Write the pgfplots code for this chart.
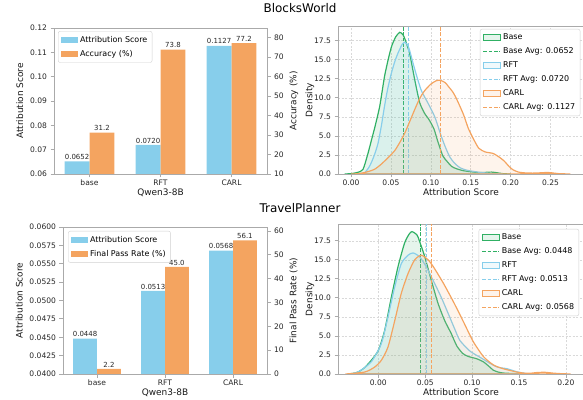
\documentclass[border=0pt]{standalone}
\usepackage{pgfplots}
\pgfplotsset{compat=1.18}
\usepackage{fontspec}
\setmainfont{DejaVu Sans}
\definecolor{cgreen}{RGB}{48,176,100}
\definecolor{cblue}{RGB}{135,206,235}
\definecolor{corange}{RGB}{244,164,96}
\definecolor{spine}{RGB}{170,170,170}
\pgfplotsset{
 base/.style={
  scale only axis,
  anchor=south west,
  font=\fontsize{7.6}{9}\selectfont,
  /pgf/number format/assume math mode=true,
  tick align=outside,
  major tick length=3.5bp,
  tick style={spine, line width=0.8bp},
  axis line style={spine, line width=0.8bp},
  tick label style={text=black!85},
  label style={font=\fontsize{9}{10}\selectfont, text=black!90},
  xticklabel style={yshift=1bp},
  xlabel shift=-4bp,
  scaled ticks=false,
  legend cell align=left,
  legend style={font=\fontsize{8}{9.6}\selectfont, draw=black!18, rounded corners=2bp, fill=white, row sep=2.6bp, inner sep=2.8bp},
 },
 barleg/.style={legend image code/.code={\fill[sharp corners, draw=none, ##1] (0bp,-2.8bp) rectangle (17bp,2.8bp);}},
 kdeleg/.style={legend image code/.code={\draw[sharp corners, ##1] (0bp,-3bp) rectangle (17bp,3bp);}},
 avgleg/.style={legend image code/.code={\draw[sharp corners, line width=1bp, dash pattern=on 3.7bp off 1.6bp, draw=#1] (0bp,0bp) -- (17bp,0bp);}},
 barax/.style={base, xmin=-0.5, xmax=2.5, ybar, bar width=0.35, bar shift=0pt,
  nodes near coords, point meta=explicit symbolic,
  nodes near coords style={font=\fontsize{7}{8}\selectfont, text=black!85, inner sep=1.5bp}},
 kdeax/.style={base, xtick pos=bottom, ytick pos=left, grid=major,
  grid style={gray!30, dash pattern=on 2bp off 1.5bp, line width=0.5bp},
  ytick={0,2.5,5,7.5,10,12.5,15,17.5},
  xticklabel style={/pgf/number format/.cd, fixed, fixed zerofill, precision=2},
  yticklabel style={/pgf/number format/.cd, fixed, fixed zerofill, precision=1},
  ylabel shift=-7bp,
  xlabel={Attribution Score}, ylabel={Density}},
 kde/.style={smooth, tension=0.4, line width=1.2bp, fill opacity=0.12, draw opacity=1, kdeleg},
 avg/.style={line width=1bp, dash pattern=on 3.7bp off 1.6bp, draw=#1, avgleg=#1},
}
\begin{document}
\begin{tikzpicture}
\path[use as bounding box] (0bp,0bp) rectangle (583bp,400bp);
\node[font=\fontsize{12}{14}\selectfont] at (300bp,392bp) {BlocksWorld};
\node[font=\fontsize{12}{14}\selectfont] at (300bp,192bp) {TravelPlanner};

% ---------- top-left bars ----------
\begin{axis}[barax, at={(54bp,226bp)}, width=213bp, height=146bp,
  ymin=0.06, ymax=0.12, ytick={0.06,0.07,0.08,0.09,0.10,0.11,0.12},
  yticklabel style={/pgf/number format/.cd, fixed, fixed zerofill, precision=2},
  xtick={0,1,2}, xticklabels={base,RFT,CARL}, xtick pos=bottom, ytick pos=left,
  ylabel={Attribution Score}, xlabel={Qwen3-8B}]
\addplot[fill=cblue, draw=none] coordinates {(-0.175,0.0652)[0.0652] (0.825,0.0720)[0.0720] (1.825,0.1127)[0.1127]};
\end{axis}
\begin{axis}[barax, at={(54bp,226bp)}, width=213bp, height=146bp, axis on top,
  ymin=10, ymax=84.92, ytick={10,20,30,40,50,60,70,80},
  xtick=\empty, ytick pos=right, yticklabel pos=right,
  ylabel={Accuracy (\%)}, ylabel shift=-1bp,
  legend style={at={(0.019,0.979)}, anchor=north west}]
\addlegendimage{barleg, fill=cblue}
\addlegendentry{Attribution Score}
\addplot[fill=corange, draw=none, barleg] coordinates {(0.175,31.2)[31.2] (1.175,73.8)[73.8] (2.175,77.2)[77.2]};
\addlegendentry{Accuracy (\%)}
\end{axis}

% ---------- bottom-left bars ----------
\begin{axis}[barax, at={(63bp,26bp)}, width=204bp, height=147bp,
  ymin=0.04, ymax=0.06, ytick={0.04,0.0425,0.045,0.0475,0.05,0.0525,0.055,0.0575,0.06},
  yticklabel style={/pgf/number format/.cd, fixed, fixed zerofill, precision=4},
  xtick={0,1,2}, xticklabels={base,RFT,CARL}, xtick pos=bottom, ytick pos=left,
  ylabel={Attribution Score}, xlabel={Qwen3-8B}]
\addplot[fill=cblue, draw=none] coordinates {(-0.175,0.0448)[0.0448] (0.825,0.0513)[0.0513] (1.825,0.0568)[0.0568]};
\end{axis}
\begin{axis}[barax, at={(63bp,26bp)}, width=204bp, height=147bp, axis on top,
  ymin=0, ymax=61.71, ytick={0,10,20,30,40,50,60},
  xtick=\empty, ytick pos=right, yticklabel pos=right,
  ylabel={Final Pass Rate (\%)}, ylabel shift=-1bp,
  legend style={at={(0.025,0.973)}, anchor=north west}]
\addlegendimage{barleg, fill=cblue}
\addlegendentry{Attribution Score}
\addplot[fill=corange, draw=none, barleg] coordinates {(0.175,2.2)[2.2] (1.175,45.0)[45.0] (2.175,56.1)[56.1]};
\addlegendentry{Final Pass Rate (\%)}
\end{axis}

% ---------- top-right KDE ----------
\begin{axis}[kdeax, at={(338bp,226bp)}, width=246bp, height=148bp,
  xmin=-0.0163, xmax=0.292, ymin=0, ymax=19.43,
  xtick={0,0.05,0.1,0.15,0.2,0.25},
  legend style={at={(0.985,0.98)}, anchor=north east}]
\addplot[kde, draw=cgreen, fill=cgreen] coordinates {
(-0.008,0) (0.000,0.05) (0.008,0.2) (0.015,0.6) (0.021,2.6) (0.026,4.6) (0.030,6.2) (0.036,8.9) (0.042,12.8) (0.047,15.2) (0.051,16.8) (0.056,18.0) (0.061,18.6) (0.065,18.3) (0.068,17.6) (0.0735,15.8) (0.080,12.3) (0.086,9.4) (0.092,8.0) (0.098,7.1) (0.104,5.9) (0.109,4.2) (0.115,2.4) (0.120,1.7) (0.126,1.0) (0.132,0.7) (0.140,0.45) (0.150,0.3) (0.160,0.2) (0.170,0.22) (0.176,0.25) (0.182,0.18) (0.190,0.05) (0.200,0)} \closedcycle;
\addlegendentry{Base}
\addplot[avg=cgreen] coordinates {(0.0652,0) (0.0652,19.43)};
\addlegendentry{Base Avg: 0.0652}
\addplot[kde, draw=cblue, fill=cblue] coordinates {
(0.005,0) (0.012,0.05) (0.017,0.15) (0.022,0.8) (0.0255,1.5) (0.030,2.7) (0.034,4.1) (0.038,6.3) (0.042,8.9) (0.046,11.2) (0.0505,13.2) (0.055,14.8) (0.059,15.9) (0.064,17.0) (0.0675,17.3) (0.071,16.9) (0.0735,16.2) (0.080,13.7) (0.088,11.0) (0.0965,9.3) (0.105,7.5) (0.112,5.3) (0.118,3.6) (0.124,2.2) (0.130,1.4) (0.137,0.8) (0.145,0.5) (0.153,0.35) (0.162,0.2) (0.170,0.13) (0.180,0.05) (0.190,0)} \closedcycle;
\addlegendentry{RFT}
\addplot[avg=cblue] coordinates {(0.0720,0) (0.0720,19.43)};
\addlegendentry{RFT Avg: 0.0720}
\addplot[kde, draw=corange, fill=corange] coordinates {
(0.000,0) (0.010,0.05) (0.021,0.3) (0.030,0.65) (0.038,1.3) (0.047,2.2) (0.055,3.1) (0.062,4.3) (0.0675,5.4) (0.074,7.0) (0.080,8.5) (0.086,9.9) (0.092,10.9) (0.100,11.8) (0.107,12.25) (0.112,12.3) (0.118,12.0) (0.122,11.5) (0.128,10.7) (0.133,9.7) (0.141,7.8) (0.147,6.0) (0.153,4.7) (0.160,3.4) (0.168,2.9) (0.178,2.7) (0.186,2.2) (0.192,1.7) (0.198,1.0) (0.203,0.55) (0.210,0.25) (0.220,0.13) (0.230,0.12) (0.240,0.17) (0.246,0.2) (0.252,0.15) (0.260,0.05) (0.275,0)} \closedcycle;
\addlegendentry{CARL}
\addplot[avg=corange] coordinates {(0.1127,0) (0.1127,19.43)};
\addlegendentry{CARL Avg: 0.1127}
\end{axis}

% ---------- bottom-right KDE ----------
\begin{axis}[kdeax, at={(338bp,26bp)}, width=246bp, height=150bp,
  xmin=-0.043, xmax=0.2193, ymin=0, ymax=19.7,
  xtick={0,0.05,0.1,0.15,0.2},
  legend style={at={(0.98,0.967)}, anchor=north east}]
\addplot[kde, draw=cgreen, fill=cgreen] coordinates {
(-0.032,0) (-0.025,0.12) (-0.0216,0.26) (-0.015,0.8) (-0.0075,1.8) (0.000,3.1) (0.0068,5.75) (0.0139,10.1) (0.021,14.1) (0.028,17.2) (0.033,18.4) (0.036,18.7) (0.040,18.4) (0.0423,18.0) (0.0495,15.4) (0.0565,12.3) (0.0636,9.3) (0.0708,7.0) (0.0778,5.3) (0.0836,3.7) (0.090,2.7) (0.096,2.3) (0.105,2.0) (0.112,1.6) (0.118,1.0) (0.1226,0.5) (0.128,0.25) (0.133,0.13) (0.142,0.07) (0.151,0.05) (0.160,0)} \closedcycle;
\addlegendentry{Base}
\addplot[avg=cgreen] coordinates {(0.0448,0) (0.0448,19.7)};
\addlegendentry{Base Avg: 0.0448}
\addplot[kde, draw=cblue, fill=cblue] coordinates {
(-0.032,0) (-0.0216,0.26) (-0.0075,1.6) (0.0032,4.0) (0.0103,7.5) (0.0175,11.45) (0.0245,14.5) (0.0317,15.6) (0.037,15.9) (0.044,15.4) (0.051,14.1) (0.060,11.9) (0.067,10.1) (0.0743,8.0) (0.0815,5.9) (0.087,4.4) (0.0978,3.0) (0.1084,2.2) (0.119,1.4) (0.126,0.95) (0.131,0.8) (0.137,0.7) (0.1475,0.3) (0.158,0.05) (0.165,0)} \closedcycle;
\addlegendentry{RFT}
\addplot[avg=cblue] coordinates {(0.0513,0) (0.0513,19.7)};
\addlegendentry{RFT Avg: 0.0513}
\addplot[kde, draw=corange, fill=corange] coordinates {
(-0.035,0) (-0.0145,0.26) (-0.004,0.9) (0.0032,1.8) (0.0103,3.55) (0.0175,7.0) (0.0245,10.6) (0.0317,13.2) (0.0388,15.0) (0.0458,15.6) (0.053,15.0) (0.0586,14.1) (0.069,12.0) (0.080,9.5) (0.0906,6.9) (0.101,4.3) (0.112,2.3) (0.1226,1.2) (0.133,0.7) (0.1475,0.26) (0.155,0.12) (0.162,0.1) (0.170,0.2) (0.178,0.22) (0.186,0.12) (0.194,0.05) (0.205,0)} \closedcycle;
\addlegendentry{CARL}
\addplot[avg=corange] coordinates {(0.0568,0) (0.0568,19.7)};
\addlegendentry{CARL Avg: 0.0568}
\end{axis}
\end{tikzpicture}
\end{document}
